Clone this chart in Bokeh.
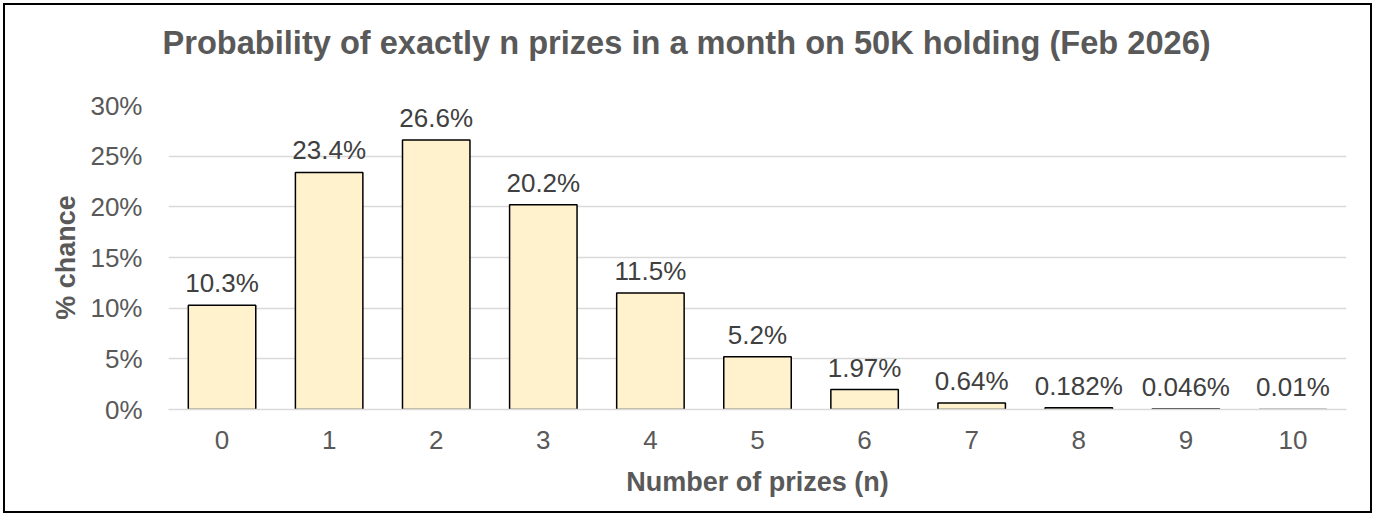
from bokeh.plotting import figure
from bokeh.models import ColumnDataSource, NumeralTickFormatter, FixedTicker, Range1d, Title
from bokeh.core.properties import value
from bokeh.embed import file_html
from bokeh.resources import INLINE

categories = ["0", "1", "2", "3", "4", "5", "6", "7", "8", "9", "10"]
probabilities = [10.3, 23.4, 26.6, 20.2, 11.5, 5.2, 1.97, 0.64, 0.182, 0.046, 0.01]
value_labels = ["10.3%", "23.4%", "26.6%", "20.2%", "11.5%", "5.2%", "1.97%", "0.64%", "0.182%", "0.046%", "0.01%"]
y_ticks = [0, 0.05, 0.10, 0.15, 0.20, 0.25, 0.30]
title_text = "Probability of exactly n prizes in a month on 50K holding (Feb 2026)"

src = ColumnDataSource(dict(
    cat=categories,
    val=[v / 100.0 for v in probabilities],
    lab=value_labels,
))

FONT = "Liberation Sans"

p = figure(
    x_range=categories,
    y_range=Range1d(0, 0.30),
    width=1369, height=510, title=None,
    output_backend="svg", toolbar_location=None,
    min_border_left=163, min_border_right=28, min_border_top=100, min_border_bottom=106,
    styles={"border": "2px solid black", "box-sizing": "border-box",
            "margin-left": "3px", "margin-top": "3px"},
)

# spacer panel between frame and title
p.add_layout(Title(text=" ", text_font_size="1px", standoff=42), "above")
p.add_layout(Title(text=title_text, align="left", offset=-6, standoff=0,
                   text_font=FONT, text_font_size="32.6px", text_font_style="bold",
                   text_color="#595959"), "above")

p.vbar(x="cat", top="val", width=0.63, source=src,
       fill_color="#FFF2CC", line_color="black", line_width=1.5)

p.text(x="cat", y="val", text="lab", source=src,
       text_align="center", text_baseline="middle", y_offset=-22,
       text_font=value(FONT), text_font_size="26px", text_color="#404040")

p.outline_line_color = None
p.xgrid.grid_line_color = None
p.ygrid.grid_line_color = "#d9d9d9"
p.ygrid.grid_line_width = 1.5

p.yaxis.ticker = FixedTicker(ticks=y_ticks)
p.yaxis.formatter = NumeralTickFormatter(format="0%")
p.yaxis.axis_line_color = None
p.yaxis.major_tick_line_color = None
p.yaxis.minor_tick_line_color = None
p.yaxis.major_label_standoff = 20
p.yaxis.major_label_text_font = FONT
p.yaxis.major_label_text_font_size = "26px"
p.yaxis.major_label_text_color = "#595959"
p.yaxis.axis_label = "% chance"
p.yaxis.axis_label_text_font = FONT
p.yaxis.axis_label_text_font_size = "27px"
p.yaxis.axis_label_text_font_style = "bold"
p.yaxis.axis_label_text_color = "#595959"
p.yaxis.axis_label_standoff = 6

p.xaxis.axis_line_color = "#d9d9d9"
p.xaxis.axis_line_width = 1.5
p.xaxis.major_tick_line_color = None
p.xaxis.minor_tick_line_color = None
p.xaxis.major_label_standoff = 15
p.xaxis.major_label_text_font = FONT
p.xaxis.major_label_text_font_size = "26px"
p.xaxis.major_label_text_color = "#595959"
p.xaxis.axis_label = "Number of prizes (n)"
p.xaxis.axis_label_text_font = FONT
p.xaxis.axis_label_text_font_size = "27px"
p.xaxis.axis_label_text_font_style = "bold"
p.xaxis.axis_label_text_color = "#595959"
p.xaxis.axis_label_standoff = 15

open("out.html", "w").write(file_html(p, INLINE))
